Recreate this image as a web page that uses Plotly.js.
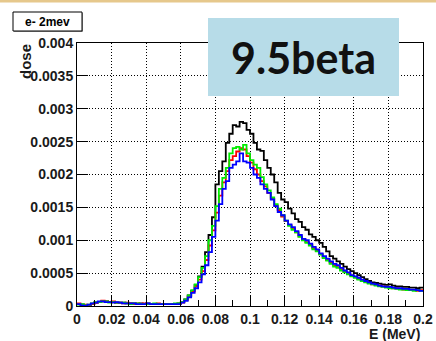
<!DOCTYPE html>
<html>
<head>
<meta charset="utf-8">
<script src="https://cdn.plot.ly/plotly-3.0.1.min.js"></script>
<style>
  html, body { margin: 0; padding: 0; background: #ffffff; }
  #chart { width: 436px; height: 341px; }
</style>
</head>
<body>
<div id="chart"></div>
<script>
// Energy-deposition histograms, 100 bins of 0.002 MeV from 0 to 0.2 MeV
const binWidth = 0.002;
const nBins = 100;

const doseBlack = [
  0.00003, 0.00002, 0.00001, 0.00001, 0.00003,
  0.00005, 0.00006, 0.00007, 0.00007, 0.00006, 0.00006, 0.00005, 0.00005, 0.00005, 0.00004,
  0.00004, 0.00004, 0.00003, 0.00004, 0.00003, 0.00004, 0.00003, 0.00003, 0.00003, 0.00003,
  0.00003, 0.00003, 0.00003, 0.00003, 0.00004,
  0.00006, 0.0001, 0.00016, 0.00023, 0.00032, 0.00045, 0.0006, 0.00082, 0.00108, 0.00135,
  0.00185, 0.00205, 0.0022, 0.00248, 0.00262, 0.00275, 0.00273, 0.0028, 0.00278, 0.00268,
  0.00262, 0.00248, 0.00238, 0.00236, 0.00222, 0.0021, 0.002, 0.00188, 0.00172, 0.00162,
  0.00158, 0.00148, 0.00141, 0.00132, 0.00128, 0.0012, 0.00116, 0.00109, 0.00105, 0.001,
  0.00096, 0.0009, 0.00083, 0.00076, 0.00072, 0.00068, 0.00064, 0.0006, 0.00056, 0.00053,
  0.0005, 0.00047, 0.00044, 0.00041, 0.00038, 0.00036, 0.00035, 0.00034, 0.00033, 0.00032,
  0.00033, 0.00031, 0.0003, 0.0003, 0.00029, 0.00029, 0.00028, 0.00028, 0.00027, 0.00028
];

const doseRed = [
  0.00004, 0.00002, 0.00002, 0.00001, 0.00003,
  0.00005, 0.00006, 0.00008, 0.00007, 0.00006, 0.00007, 0.00005, 0.00005, 0.00004, 0.00005,
  0.00004, 0.00003, 0.00004, 0.00003, 0.00004, 0.00003, 0.00003, 0.00003, 0.00004, 0.00003,
  0.00003, 0.00003, 0.00003, 0.00003, 0.00003,
  0.00005, 0.00009, 0.00015, 0.00022, 0.0003, 0.0004, 0.00053, 0.0007, 0.00092, 0.00115,
  0.00142, 0.00168, 0.00188, 0.00205, 0.00222, 0.00228, 0.00235, 0.0024, 0.00238, 0.00228,
  0.00218, 0.00208, 0.002, 0.0019, 0.00182, 0.00172, 0.00163, 0.00153, 0.00146, 0.00136,
  0.00129, 0.00123, 0.00118, 0.00112, 0.00106, 0.00102, 0.00097, 0.00093, 0.00088, 0.00084,
  0.00079, 0.00074, 0.0007, 0.00066, 0.00062, 0.00059, 0.00056, 0.00052, 0.00049, 0.00046,
  0.00044, 0.00041, 0.00039, 0.00037, 0.00035, 0.00033, 0.00032, 0.00031, 0.0003, 0.00029,
  0.00028, 0.00027, 0.00027, 0.00026, 0.00025, 0.00025, 0.00024, 0.00024, 0.00023, 0.00024
];

const doseGreen = [
  0.00002, 0.00003, 0.00001, 0.00002, 0.00004,
  0.00006, 0.00006, 0.00007, 0.00007, 0.00005, 0.00006, 0.00005, 0.00005, 0.00005, 0.00004,
  0.00003, 0.00004, 0.00004, 0.00003, 0.00003, 0.00003, 0.00003, 0.00004, 0.00003, 0.00003,
  0.00003, 0.00003, 0.00003, 0.00004, 0.00004,
  0.00006, 0.0001, 0.00016, 0.00024, 0.00033, 0.00044, 0.00058, 0.00076, 0.001, 0.00122,
  0.00152, 0.00178, 0.00195, 0.0021, 0.00232, 0.0024, 0.00242, 0.00238, 0.00245, 0.00232,
  0.00222, 0.00215, 0.0021, 0.00196, 0.00185, 0.00176, 0.00165, 0.00155, 0.00148, 0.00138,
  0.0013, 0.00122, 0.00116, 0.00112, 0.00105, 0.001, 0.00096, 0.00092, 0.00086, 0.00083,
  0.00078, 0.00073, 0.00069, 0.00064, 0.0006, 0.00058, 0.00054, 0.00051, 0.00048, 0.00045,
  0.00043, 0.0004, 0.00038, 0.00036, 0.00034, 0.00033, 0.00031, 0.0003, 0.00029, 0.00028,
  0.00027, 0.00027, 0.00026, 0.00025, 0.00025, 0.00024, 0.00024, 0.00023, 0.00024, 0.00023
];

const doseBlue = [
  0.00003, 0.00001, 0.00000, 0.00002, 0.00004,
  0.00005, 0.00007, 0.00007, 0.00006, 0.00006, 0.00005, 0.00006, 0.00005, 0.00004, 0.00004,
  0.00004, 0.00004, 0.00003, 0.00003, 0.00003, 0.00004, 0.00003, 0.00003, 0.00003, 0.00003,
  0.00003, 0.00003, 0.00003, 0.00003, 0.00003,
  0.00005, 0.00008, 0.00013, 0.0002, 0.00027, 0.00036, 0.00048, 0.00062, 0.00082, 0.00105,
  0.0013, 0.00155, 0.00178, 0.0019, 0.0021, 0.00215, 0.0022, 0.00232, 0.0022, 0.00218,
  0.0021, 0.002, 0.00195, 0.00185, 0.00178, 0.00172, 0.00162, 0.00152, 0.00143, 0.00138,
  0.0013, 0.00124, 0.0012, 0.00114, 0.00108, 0.00102, 0.001, 0.00095, 0.0009, 0.00086,
  0.0008, 0.00076, 0.00072, 0.00068, 0.00064, 0.00062, 0.00058, 0.00054, 0.00051, 0.00047,
  0.00045, 0.00043, 0.0004, 0.00038, 0.00036, 0.00034, 0.00033, 0.00031, 0.0003, 0.00029,
  0.00029, 0.00028, 0.00027, 0.00027, 0.00026, 0.00026, 0.00025, 0.00025, 0.00024, 0.00023
];

const xTickVals = [0, 0.02, 0.04, 0.06, 0.08, 0.1, 0.12, 0.14, 0.16, 0.18, 0.2];
const xTickText = ['0', '0.02', '0.04', '0.06', '0.08', '0.1', '0.12', '0.14', '0.16', '0.18', '0.2'];
const yTickVals = [0, 0.0005, 0.001, 0.0015, 0.002, 0.0025, 0.003, 0.0035, 0.004];
const yTickText = ['0', '0.0005', '0.001', '0.0015', '0.002', '0.0025', '0.003', '0.0035', '0.004'];

const seriesList = [
  { name: 'black', values: doseBlack, color: '#000000' },
  { name: 'red', values: doseRed, color: '#ff0000' },
  { name: 'green', values: doseGreen, color: '#00ee00' },
  { name: 'blue', values: doseBlue, color: '#0000ff' }
];

// bin low edges plus the closing edge, so each bin is drawn as a flat step
const edges = [];
for (let i = 0; i <= nBins; i++) edges.push(+(i * binWidth).toFixed(4));

const traces = seriesList.map(s => ({
  type: 'scatter',
  mode: 'lines',
  name: s.name,
  x: edges,
  y: s.values.concat([s.values[s.values.length - 1]]),
  line: { shape: 'hv', color: s.color, width: 1.8 },
  hoverinfo: 'skip'
}));

const tickFont = { family: 'Liberation Sans, Arial, sans-serif', size: 14, color: '#1a1a1a', weight: 700 };

// paper coordinates for the plot box: 77..423 px wide, 43..306 px tall
const px = v => (v - 77) / 346;
const py = v => (306 - v) / 263;

const layout = {
  width: 436,
  height: 341,
  margin: { l: 77, r: 13, t: 43, b: 35, pad: 0 },
  paper_bgcolor: '#ffffff',
  plot_bgcolor: '#ffffff',
  showlegend: false,
  xaxis: {
    range: [0, 0.2],
    tickmode: 'array',
    tickvals: xTickVals,
    ticktext: xTickText,
    ticks: 'inside',
    ticklen: 11,
    tickwidth: 1,
    tickcolor: '#000',
    tickfont: tickFont,
    showline: true,
    linecolor: '#000',
    linewidth: 1,
    mirror: true,
    showgrid: true,
    gridcolor: '#000',
    gridwidth: 1,
    griddash: '1px,2px',
    zeroline: false,
    minor: { tickmode: 'linear', tick0: 0, dtick: 0.01, ticks: 'inside', ticklen: 6, tickcolor: '#000', showgrid: false }
  },
  yaxis: {
    range: [0, 0.004],
    tickmode: 'array',
    tickvals: yTickVals,
    ticktext: yTickText,
    ticks: 'inside',
    ticklen: 11,
    tickwidth: 1,
    tickcolor: '#000',
    tickfont: tickFont,
    showline: true,
    linecolor: '#000',
    linewidth: 1,
    mirror: true,
    showgrid: true,
    gridcolor: '#000',
    gridwidth: 1,
    griddash: '1px,2px',
    zeroline: false
  },
  shapes: [
    // thin tan band along the top edge
    { type: 'rect', xref: 'paper', yref: 'paper', x0: px(0), x1: px(436), y0: py(2.5), y1: py(0),
      fillcolor: '#e6c88c', line: { width: 0 }, layer: 'above' },
    // histogram title box
    { type: 'rect', xref: 'paper', yref: 'paper', x0: px(14), x1: px(83), y0: py(32), y1: py(13),
      fillcolor: '#9a9a9a', line: { width: 0 }, layer: 'above' },
    { type: 'rect', xref: 'paper', yref: 'paper', x0: px(13), x1: px(82), y0: py(31), y1: py(12),
      fillcolor: '#ffffff', line: { color: '#000', width: 1 }, layer: 'above' },
    // light blue label panel
    { type: 'rect', xref: 'paper', yref: 'paper', x0: px(208), x1: px(399), y0: py(96), y1: py(18),
      fillcolor: '#b7dce8', line: { width: 0 }, layer: 'above' }
  ],
  annotations: [
    { text: 'e- 2mev', xref: 'paper', yref: 'paper', x: px(47.5), y: py(21.5),
      xanchor: 'center', yanchor: 'middle', showarrow: false,
      font: { family: 'Liberation Sans, Arial, sans-serif', size: 12, color: '#000', weight: 700 } },
    { text: '9.5beta', xref: 'paper', yref: 'paper', x: px(303), y: py(57),
      xanchor: 'center', yanchor: 'middle', showarrow: false,
      font: { family: 'Lato, Open Sans, sans-serif', size: 43, color: '#111', weight: 700 } },
    { text: 'dose', xref: 'paper', yref: 'paper', x: px(26), y: py(62), textangle: -90,
      xanchor: 'center', yanchor: 'middle', showarrow: false,
      font: { family: 'Liberation Sans, Arial, sans-serif', size: 15, color: '#1a1a1a', weight: 700 } },
    { text: 'E (MeV)', xref: 'paper', yref: 'paper', x: px(422), y: py(333.5),
      xanchor: 'right', yanchor: 'middle', showarrow: false,
      font: { family: 'Liberation Sans, Arial, sans-serif', size: 14, color: '#1a1a1a', weight: 700 } }
  ]
};

Plotly.newPlot('chart', traces, layout, { displayModeBar: false, staticPlot: true });
</script>
</body>
</html>
